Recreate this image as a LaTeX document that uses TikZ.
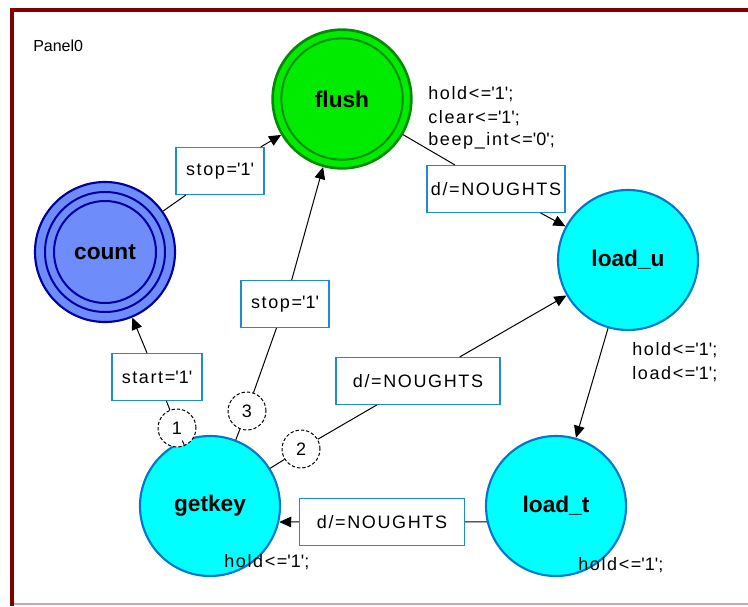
\documentclass[tikz,border=0pt]{standalone}
\usepackage{fontspec}
\setmainfont{Liberation Sans}
\newfontfamily\lblfont[LetterSpace=9]{Liberation Sans}
\usetikzlibrary{arrows.meta}
\definecolor{framered}{RGB}{128,0,0}
\definecolor{framepink}{RGB}{215,165,165}
\definecolor{flushfill}{RGB}{0,235,0}
\definecolor{flushline}{RGB}{0,140,0}
\definecolor{countfill}{RGB}{110,140,250}
\definecolor{countline}{RGB}{0,0,160}
\definecolor{statefill}{RGB}{0,255,255}
\definecolor{stateline}{RGB}{0,120,205}
\definecolor{boxline}{RGB}{30,140,210}
\newcommand{\sq}{\textquotesingle}

\begin{document}
\begin{tikzpicture}[
  x=0.75pt, y=-0.75pt,
  state/.style={circle, draw=stateline, fill=statefill, line width=1.6pt, minimum size=105pt, inner sep=0pt, font=\bfseries\fontsize{17}{20}\selectfont},
  flushstate/.style={state, draw=flushline, fill=flushfill, line width=2pt, minimum size=104pt},
  countstate/.style={state, draw=countline, fill=countfill},
  ring/.style={line width=1.5pt},
  cond/.style={draw=boxline, fill=white, line width=1pt, minimum height=35pt, inner sep=0pt, font=\lblfont\fontsize{13.5}{16}\selectfont},
  act/.style={anchor=base west, inner sep=0pt, font=\lblfont\fontsize{13.5}{16}\selectfont},
  prio/.style={circle, draw, dash pattern=on 2.5pt off 1.5pt, fill=white, line width=0.75pt, minimum size=28.5pt, inner sep=0pt, font=\lblfont\fontsize{13.5}{16}\selectfont},
  trans/.style={draw=black, line width=0.75pt},
  transarrow/.style={trans, -{Triangle[length=9pt, width=8pt]}}
]
  \useasboundingbox (0,0) rectangle (748,606);

  % Panel frame
  \draw[framepink, line width=1pt] (12,604) -- (748,604);
  \draw[framered, line width=3pt] (748,10) -- (12,10) -- (12,606);
  \node[anchor=base west, inner sep=0pt, font=\fontsize{12}{14}\selectfont] (panel) at (33,52) {Panel0};

  % States
  \node[flushstate] (flush) at (342,99) {flush};
  \draw[ring, flushline] (flush.center) circle[radius=45.5pt];
  \node[countstate] (count) at (105,252) {count};
  \draw[ring, countline] (count.center) circle[radius=45pt] (count.center) circle[radius=38.25pt];
  \node[state] (loadu) at (628,260) {load\_u};
  \node[state] (loadt) at (556,506) {load\_t};
  \node[state] (getkey) at (210,506) {getkey};

  % Conditions
  \node[cond, minimum width=66pt] (stopa) at (220,171) {stop=\sq1\sq};
  \node[cond, minimum width=66pt] (stopb) at (285,304) {stop=\sq1\sq};
  \node[cond, minimum width=103.5pt] (nota) at (496,189) {d/=NOUGHTS};
  \node[cond, minimum width=123pt] (notb) at (418,381) {d/=NOUGHTS};
  \node[cond, minimum width=67.5pt] (start) at (157,377) {start=\sq1\sq};
  \node[cond, minimum width=123.75pt] (notc) at (382,522) {d/=NOUGHTS};

  % Priorities
  \node[prio] (pa) at (177,428) {1};
  \node[prio] (pb) at (301,449) {2};
  \node[prio] (pc) at (247,411) {3};

  % count -> flush
  \draw[trans] (count) -- (stopa);
  \draw[transarrow] (stopa) -- (flush);
  % flush -> load_u
  \draw[trans] (flush) -- (nota);
  \draw[transarrow] (nota) -- (loadu);
  % load_u -> load_t
  \draw[transarrow] (loadu) -- (loadt);
  % load_t -> getkey
  \draw[trans] (loadt.193) -- (notc);
  \draw[transarrow] (notc) -- (getkey.347);
  % getkey -> count, flush, load_u
  \draw[trans] (getkey) -- (pa);
  \draw[trans] (pa) -- (start);
  \draw[transarrow] (start) -- (count);
  \draw[trans] (getkey) -- (pc);
  \draw[trans] (pc) -- (stopb);
  \draw[transarrow] (stopb) -- (flush);
  \draw[trans] (getkey) -- (pb);
  \draw[trans] (pb) -- (notb);
  \draw[transarrow] (notb) -- (loadu);

  % Actions
  \node[act] (fa1) at (428,100) {hold<=\sq1\sq;};
  \node[act] (fa2) at (428,123) {clear<=\sq1\sq;};
  \node[act] (fa3) at (428,146) {beep\_int<=\sq0\sq;};
  \node[act] (ua1) at (632,355) {hold<=\sq1\sq;};
  \node[act] (ua2) at (632,379) {load<=\sq1\sq;};
  \node[act] (ta1) at (578,570) {hold<=\sq1\sq;};
  \node[act] (ga1) at (224,567) {hold<=\sq1\sq;};
\end{tikzpicture}
\end{document}
